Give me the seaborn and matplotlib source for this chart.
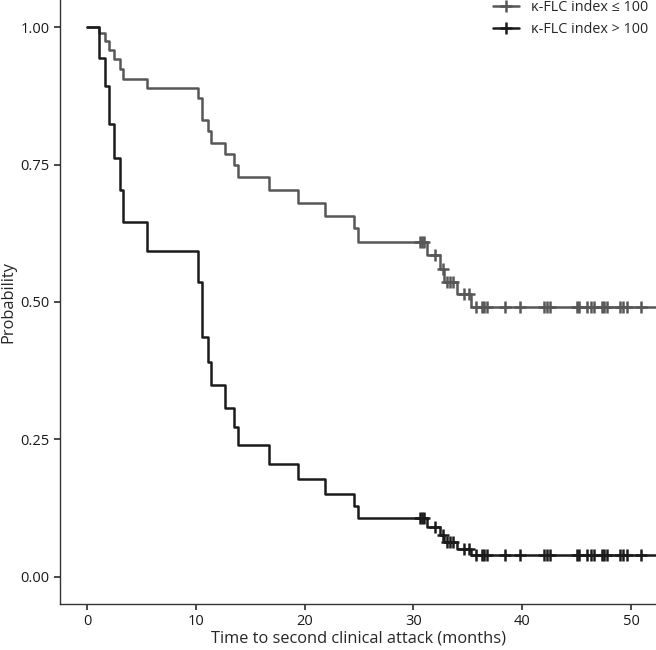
import numpy as np
import pandas as pd
import matplotlib
matplotlib.use('Agg')
import matplotlib.pyplot as plt
import seaborn as sns
from matplotlib.lines import Line2D

# Event times (months) shared by both predicted curves
event_times = [0.0, 1.04, 1.65, 2.0, 2.45, 3.03, 3.28, 5.48, 10.15, 10.6, 11.15, 11.4,
               12.68, 13.5, 13.85, 16.7, 19.4, 21.9, 24.5, 24.9, 31.2, 32.4, 32.85,
               34.0, 35.3]

surv_low = [1.0, 0.989, 0.975, 0.959, 0.942, 0.925, 0.907, 0.890, 0.871, 0.831, 0.812,
            0.790, 0.770, 0.749, 0.727, 0.704, 0.681, 0.656, 0.634, 0.610, 0.586,
            0.560, 0.537, 0.514, 0.490]

surv_high = [1.0, 0.945, 0.893, 0.825, 0.763, 0.704, 0.645, 0.593, 0.537, 0.436, 0.391,
             0.348, 0.307, 0.273, 0.239, 0.205, 0.177, 0.151, 0.128, 0.107, 0.090,
             0.075, 0.062, 0.050, 0.040]

censor_times = [30.6, 30.8, 31.0, 32.0, 32.75, 33.1, 33.4, 33.6, 34.6, 35.1, 35.75,
                36.3, 36.5, 36.8, 38.4, 39.8, 42.0, 42.3, 42.55, 45.0, 45.25, 45.98,
                46.3, 46.6, 47.3, 47.5, 47.8, 49.0, 49.3, 49.6, 50.9]

end_time = 53.0
groups = ['κ-FLC index ≤ 100', 'κ-FLC index > 100']
colors = {'κ-FLC index ≤ 100': '#575757', 'κ-FLC index > 100': '#1b1b1b'}

sns.set_theme(style='ticks')
plt.rcParams['font.family'] = ['Open Sans', 'DejaVu Sans']

rows = []
cens_rows = []
for g, s in zip(groups, [surv_low, surv_high]):
    t = event_times + [end_time]
    v = s + [s[-1]]
    for ti, vi in zip(t, v):
        rows.append({'time': ti, 'prob': vi, 'group': g})
    idx = np.searchsorted(event_times, censor_times, side='right') - 1
    for ct, i in zip(censor_times, idx):
        cens_rows.append({'time': ct, 'prob': s[i], 'group': g})
curves = pd.DataFrame(rows)
cens = pd.DataFrame(cens_rows)

fig = plt.figure(figsize=(6.56, 6.5), dpi=100)
ax = fig.add_axes([0.0915, 0.0708, 0.9085, 0.9292])

sns.lineplot(data=curves, x='time', y='prob', hue='group', palette=colors,
             drawstyle='steps-post', estimator=None, sort=False, linewidth=1.8,
             legend=False, ax=ax)
for g in groups:
    sub = cens[cens['group'] == g]
    ax.plot(sub['time'], sub['prob'], linestyle='none', marker='+', markersize=9,
            markeredgewidth=1.8, color=colors[g])

ax.set_xlim(-2.5, 52.3)
ax.set_ylim(-0.05, 1.05)
ax.set_xticks([0, 10, 20, 30, 40, 50])
ax.set_yticks([0.0, 0.25, 0.5, 0.75, 1.0])
ax.set_yticklabels(['0.00', '0.25', '0.50', '0.75', '1.00'])
ax.tick_params(labelsize=10.5, color='#333333', length=4, labelcolor='#1a1a1a')
ax.set_xlabel('Time to second clinical attack (months)', fontsize=11.8, labelpad=1)
ax.set_ylabel('Probability', fontsize=11.8, labelpad=3)
for sp in ['top', 'right']:
    ax.spines[sp].set_visible(False)
for sp in ['left', 'bottom']:
    ax.spines[sp].set_color('#333333')
    ax.spines[sp].set_linewidth(1.0)

handles = [Line2D([0], [0], color=colors[g], linewidth=1.8, marker='+',
                  markersize=9, markeredgewidth=1.8) for g in groups]
fig.legend(handles, groups, loc='upper right', bbox_to_anchor=(1.008, 1.02),
           frameon=False, fontsize=10.4, handlelength=1.8, handletextpad=0.8,
           labelspacing=0.5)

fig.savefig('out.png', dpi=100)
